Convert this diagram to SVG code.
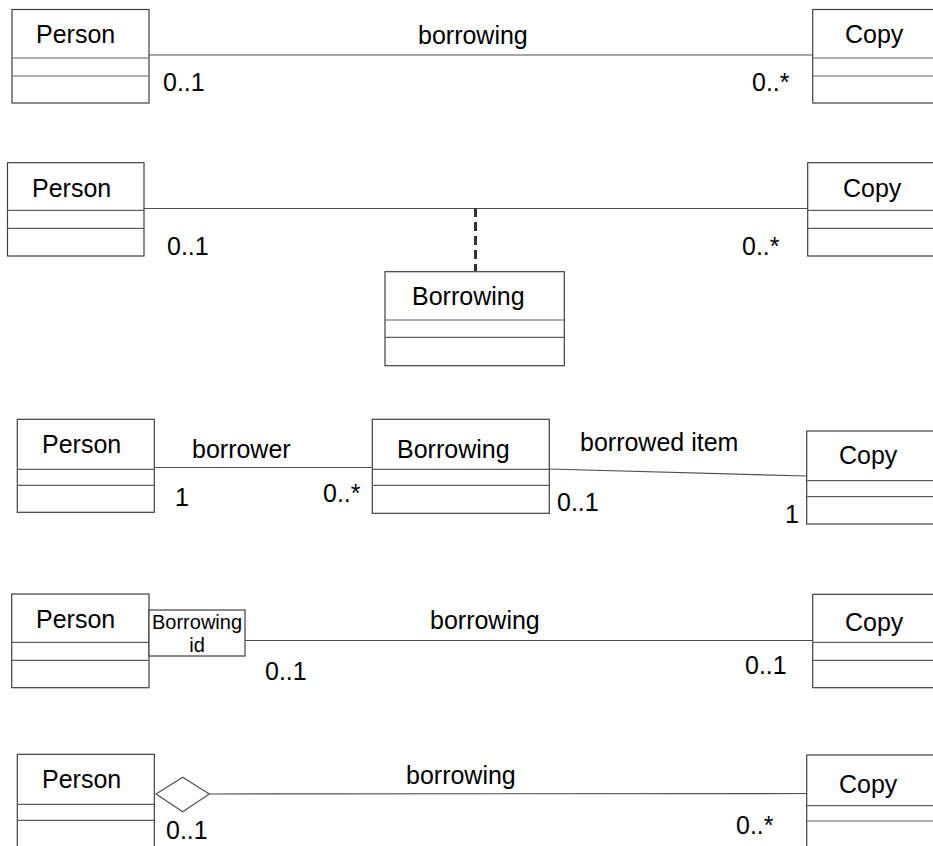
<svg xmlns="http://www.w3.org/2000/svg" width="933" height="846" viewBox="0 0 933 846">
  <style>
    .box { fill: #ffffff; stroke: #404040; stroke-width: 1.2; }
    .sep { stroke: #606060; stroke-width: 1.2; fill: none; }
    .assoc { stroke: #505050; stroke-width: 1.2; fill: none; }
    .dash { stroke: #333333; stroke-width: 3; stroke-dasharray: 9 5; fill: none; }
    .diamond { fill: #ffffff; stroke: #505050; stroke-width: 1.2; }
    text { font-family: "Liberation Sans", Arial, sans-serif; font-size: 25px; fill: #000000; }
    .small { font-size: 20px; }
  </style>

  <!-- connectors -->
  <g id="connectors">
    <line class="assoc" x1="149" y1="55" x2="813" y2="55"/>
    <line class="assoc" x1="144" y1="208.5" x2="808" y2="208.5"/>
    <line class="dash" x1="475.5" y1="208" x2="475.5" y2="271"/>
    <line class="assoc" x1="154" y1="467.5" x2="372" y2="467.5"/>
    <line class="assoc" x1="549" y1="469" x2="807" y2="476"/>
    <line class="assoc" x1="245" y1="640.5" x2="813" y2="640.5"/>
    <polygon class="diamond" points="156,794 182.7,777.3 209.3,794 182.7,811.7"/>
    <line class="assoc" x1="209.3" y1="794" x2="807" y2="793.5"/>
  </g>

  <!-- association labels and multiplicities -->
  <g id="labels">
    <text x="418" y="44">borrowing</text>
    <text x="163" y="91">0..1</text>
    <text x="752" y="91">0..*</text>

    <text x="167" y="255">0..1</text>
    <text x="742" y="255">0..*</text>

    <text x="192" y="458">borrower</text>
    <text x="175" y="506">1</text>
    <text x="323" y="502">0..*</text>
    <text x="580" y="451">borrowed item</text>
    <text x="557" y="511">0..1</text>
    <text x="785" y="523">1</text>

    <text x="430" y="629">borrowing</text>
    <text x="265" y="680">0..1</text>
    <text x="745" y="674">0..1</text>

    <text x="406" y="784">borrowing</text>
    <text x="166" y="839">0..1</text>
    <text x="736" y="834">0..*</text>
  </g>

  <!-- row 1 -->
  <g id="person1">
    <rect class="box" x="12" y="9.5" width="137" height="93.5"/>
    <line class="sep" x1="12" y1="58" x2="149" y2="58"/>
    <line class="sep" x1="12" y1="76" x2="149" y2="76"/>
    <text x="36" y="43">Person</text>
  </g>
  <g id="copy1">
    <rect class="box" x="812.7" y="9.5" width="124" height="93.5"/>
    <line class="sep" x1="812.7" y1="58" x2="940" y2="58"/>
    <line class="sep" x1="812.7" y1="76" x2="940" y2="76"/>
    <text x="845" y="43">Copy</text>
  </g>

  <!-- row 2 -->
  <g id="person2">
    <rect class="box" x="7.5" y="162.7" width="136.5" height="93.3"/>
    <line class="sep" x1="7.5" y1="210.3" x2="144" y2="210.3"/>
    <line class="sep" x1="7.5" y1="228.3" x2="144" y2="228.3"/>
    <text x="32" y="197">Person</text>
  </g>
  <g id="copy2">
    <rect class="box" x="807.7" y="162.7" width="130" height="93.3"/>
    <line class="sep" x1="807.7" y1="210.3" x2="940" y2="210.3"/>
    <line class="sep" x1="807.7" y1="228.3" x2="940" y2="228.3"/>
    <text x="843" y="197">Copy</text>
  </g>
  <g id="borrowing2">
    <rect class="box" x="385" y="271.7" width="179.3" height="94"/>
    <line class="sep" x1="385" y1="320" x2="564.3" y2="320"/>
    <line class="sep" x1="385" y1="337.3" x2="564.3" y2="337.3"/>
    <text x="412" y="305">Borrowing</text>
  </g>

  <!-- row 3 -->
  <g id="person3">
    <rect class="box" x="17.3" y="419.3" width="137" height="93"/>
    <line class="sep" x1="17.3" y1="469.3" x2="154.3" y2="469.3"/>
    <line class="sep" x1="17.3" y1="485.3" x2="154.3" y2="485.3"/>
    <text x="42" y="453">Person</text>
  </g>
  <g id="borrowing3">
    <rect class="box" x="372.3" y="419.3" width="177" height="94"/>
    <line class="sep" x1="372.3" y1="469.3" x2="549.3" y2="469.3"/>
    <line class="sep" x1="372.3" y1="485.3" x2="549.3" y2="485.3"/>
    <text x="397" y="458">Borrowing</text>
  </g>
  <g id="copy3">
    <rect class="box" x="806.7" y="431" width="130" height="93"/>
    <line class="sep" x1="806.7" y1="480.7" x2="940" y2="480.7"/>
    <line class="sep" x1="806.7" y1="496.7" x2="940" y2="496.7"/>
    <text x="839" y="464">Copy</text>
  </g>

  <!-- row 4 -->
  <g id="person4">
    <rect class="box" x="11.7" y="594" width="137.3" height="93.7"/>
    <line class="sep" x1="11.7" y1="642.3" x2="149" y2="642.3"/>
    <line class="sep" x1="11.7" y1="660.3" x2="149" y2="660.3"/>
    <text x="36" y="628">Person</text>
  </g>
  <g id="borrowing-id">
    <rect class="box" x="149" y="610" width="96" height="46"/>
    <text class="small" x="197" y="629" text-anchor="middle">Borrowing</text>
    <text class="small" x="197" y="652" text-anchor="middle">id</text>
  </g>
  <g id="copy4">
    <rect class="box" x="812.7" y="594.3" width="124" height="93.4"/>
    <line class="sep" x1="812.7" y1="642.3" x2="940" y2="642.3"/>
    <line class="sep" x1="812.7" y1="660.3" x2="940" y2="660.3"/>
    <text x="845" y="631">Copy</text>
  </g>

  <!-- row 5 -->
  <g id="person5">
    <rect class="box" x="17.3" y="754.3" width="137" height="110"/>
    <line class="sep" x1="17.3" y1="804.3" x2="154.3" y2="804.3"/>
    <line class="sep" x1="17.3" y1="820.3" x2="154.3" y2="820.3"/>
    <text x="42" y="788">Person</text>
  </g>
  <g id="copy5">
    <rect class="box" x="806.7" y="755" width="130" height="110"/>
    <line class="sep" x1="806.7" y1="805.7" x2="940" y2="805.7"/>
    <line class="sep" x1="806.7" y1="821" x2="940" y2="821"/>
    <text x="839" y="793">Copy</text>
  </g>
</svg>
